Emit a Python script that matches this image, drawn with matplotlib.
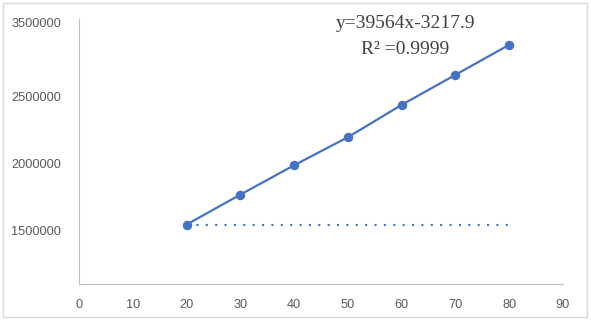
import matplotlib
matplotlib.use("Agg")
from matplotlib import pyplot as plt
from matplotlib.patches import Rectangle

# values
conc = [20, 30, 40, 50, 60, 70, 80]
signal = [1543000, 1766000, 1985000, 2194000, 2435000, 2659000, 2883000]
base_x = [20, 80]
base_y = [1543000, 1543000]

ytick_vals = [1500000, 2000000, 2500000, 3050000]
ytick_labels = ["1500000", "2000000", "2500000", "3500000"]
xtick_vals = [0, 10, 20, 30, 40, 50, 60, 70, 80, 90]

blue = "#4472C4"
grey = "#595959"

fig = plt.figure(figsize=(5.91, 3.22), dpi=100)
fig.patches.append(Rectangle((3/591, 5/322), 584/591, 314/322, transform=fig.transFigure,
                             fill=False, edgecolor="#d9d9d9", linewidth=1))
ax = fig.add_axes([79/591, 38/322, 484/591, 265/322])

ax.plot(conc, signal, color=blue, lw=1.6, marker="o", markersize=5.8)
ax.plot(base_x, base_y, color=blue, lw=1.5, linestyle=(0, (1, 3.5)))

ax.set_xlim(0, 90)
ax.set_ylim(1100000, 3075000)
ax.set_xticks(xtick_vals)
ax.set_xticklabels([str(v) for v in xtick_vals])
ax.set_yticks(ytick_vals)
ax.set_yticklabels(ytick_labels)

for side in ["top", "right"]:
    ax.spines[side].set_visible(False)
for side in ["left", "bottom"]:
    ax.spines[side].set_color("#bfbfbf")
ax.tick_params(length=0, labelsize=9.2, colors=grey, labelfontfamily="Liberation Sans")
ax.tick_params(axis="x", pad=11)
ax.tick_params(axis="y", pad=13)

fig.text(406/591, 1 - 23/322, "y=39564x-3217.9", family="Liberation Serif",
         fontsize=14, color="#404040", ha="center", va="center")
fig.text(405/591, 1 - 50/322, "R² =0.9999", family="Liberation Serif",
         fontsize=14, color="#404040", ha="center", va="center")

fig.savefig("out.png", dpi=100)
